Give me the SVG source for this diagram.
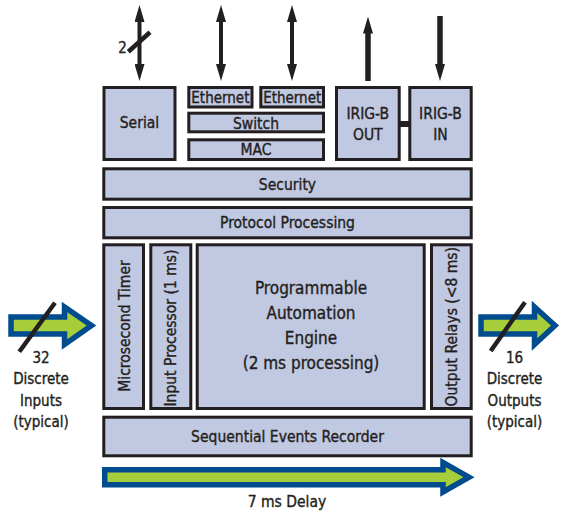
<svg xmlns="http://www.w3.org/2000/svg" width="562" height="512" viewBox="0 0 562 512">
<defs>
<style>
.box{fill:#c1c8e1;stroke:#231f20;stroke-width:3}
.t{font-family:"DejaVu Sans Condensed","DejaVu Sans",sans-serif;font-stretch:condensed;font-size:15.5px;fill:#231f20;stroke:#231f20;stroke-width:0.35;text-anchor:middle}
.big{font-size:17px}
.sm{font-size:15px}
.shaft{stroke:#231f20;fill:none}
.slash{stroke:#231f20;stroke-width:4.5;fill:none}
.fat{fill:#a6cd3a;stroke:#004c8e;stroke-width:5.5;stroke-linejoin:miter}
</style>
<marker id="ah" markerUnits="userSpaceOnUse" markerWidth="17" markerHeight="10" refX="2" refY="5" orient="auto-start-reverse">
<path d="M0,0 L17,5 L0,10 z" fill="#231f20"/>
</marker>
</defs>
<rect width="562" height="512" fill="#ffffff"/>
<g id="connectors">
<line class="shaft" x1="139.5" y1="20" x2="139.5" y2="66" stroke-width="4" marker-start="url(#ah)" marker-end="url(#ah)"/>
<line class="slash" x1="128.3" y1="51.7" x2="150" y2="32.3" stroke-width="5"/>
<text class="t sm" x="122.5" y="53" font-size="14">2</text>
<line class="shaft" x1="221" y1="20" x2="221" y2="66" stroke-width="4" marker-start="url(#ah)" marker-end="url(#ah)"/>
<line class="shaft" x1="292" y1="20" x2="292" y2="66" stroke-width="4" marker-start="url(#ah)" marker-end="url(#ah)"/>
<line class="shaft" x1="368" y1="31.5" x2="368" y2="81" stroke-width="5.5" marker-start="url(#ah)"/>
<line class="shaft" x1="440" y1="16" x2="440" y2="66" stroke-width="5.5" marker-end="url(#ah)"/>
<line class="shaft" x1="400" y1="124" x2="409" y2="124" stroke-width="6"/>
<g id="input-arrow">
<polygon class="fat" points="11,317 64.5,317 64.5,307 91.5,325.5 64.5,344.5 64.5,334 11,334"/>
<line class="slash" x1="19.3" y1="351.7" x2="55" y2="302.7"/>
<text class="t sm" x="41" y="362.5">32</text>
<text class="t sm" x="41" y="384">Discrete</text>
<text class="t sm" x="41" y="405.5">Inputs</text>
<text class="t sm" x="41" y="427">(typical)</text>
</g>
<g id="output-arrow">
<polygon class="fat" points="481,317 534.5,317 534.5,307 555,325.5 534.5,344.5 534.5,334 481,334"/>
<line class="slash" x1="490.7" y1="351" x2="525" y2="302.3"/>
<text class="t sm" x="514.5" y="362.5">16</text>
<text class="t sm" x="514.5" y="384">Discrete</text>
<text class="t sm" x="514.5" y="405.5">Outputs</text>
<text class="t sm" x="514.5" y="427">(typical)</text>
</g>
<g id="delay-arrow">
<polygon class="fat" stroke-width="6" points="104.7,469.7 443,469.7 443,462.5 469,477.2 443,492 443,484.7 104.7,484.7"/>
<text class="t" x="287" y="507">7 ms Delay</text>
</g>
</g>
<g id="serial"><rect class="box" x="104" y="87.5" width="71" height="72"/><text class="t" x="139.5" y="128">Serial</text></g>
<g id="ethernet1"><rect class="box" x="188.8" y="87.5" width="63.2" height="19.5"/><text class="t sm" x="220.4" y="103">Ethernet</text></g>
<g id="ethernet2"><rect class="box" x="260.8" y="87.5" width="62.7" height="19.5"/><text class="t sm" x="292.2" y="103">Ethernet</text></g>
<g id="switch"><rect class="box" x="188.8" y="113.2" width="134.7" height="18.6"/><text class="t" x="256" y="128.5">Switch</text></g>
<g id="mac"><rect class="box" x="188.8" y="139.8" width="134.7" height="19.7"/><text class="t" x="256" y="155">MAC</text></g>
<g id="irigb-out"><rect class="box" x="336.5" y="87.5" width="62.7" height="72"/><text class="t" x="367.8" y="118.5">IRIG-B</text><text class="t" x="367.8" y="140">OUT</text></g>
<g id="irigb-in"><rect class="box" x="409.8" y="87.5" width="61.4" height="72"/><text class="t" x="440.5" y="118.5">IRIG-B</text><text class="t" x="440.5" y="140">IN</text></g>
<g id="security"><rect class="box" x="103.8" y="168.8" width="367.4" height="30.4"/><text class="t" x="287.5" y="189.5">Security</text></g>
<g id="protocol"><rect class="box" x="103.8" y="207.5" width="367.4" height="30.3"/><text class="t" x="287.5" y="228">Protocol Processing</text></g>
<g id="timer"><rect class="box" x="103.8" y="244.8" width="39.7" height="163.7"/><text class="t" transform="translate(129.5,326) rotate(-90)">Microsecond Timer</text></g>
<g id="input-processor"><rect class="box" x="150.8" y="244.8" width="40" height="163.7"/><text class="t" transform="translate(176.3,328) rotate(-90)">Input Processor (1 ms)</text></g>
<g id="engine"><rect class="box" x="197.2" y="244.8" width="227" height="163.7"/>
<text class="t big" x="311" y="294">Programmable</text>
<text class="t big" x="311" y="319.3">Automation</text>
<text class="t big" x="311" y="344.3">Engine</text>
<text class="t big" x="311" y="368.5">(2 ms processing)</text></g>
<g id="output-relays"><rect class="box" x="431.5" y="244.8" width="39.7" height="163.7"/><text class="t" transform="translate(456.8,326.7) rotate(-90)">Output Relays (&lt;8 ms)</text></g>
<g id="ser"><rect class="box" x="103.8" y="417.2" width="367.4" height="38.6"/><text class="t" x="287.5" y="442">Sequential Events Recorder</text></g>
</svg>
